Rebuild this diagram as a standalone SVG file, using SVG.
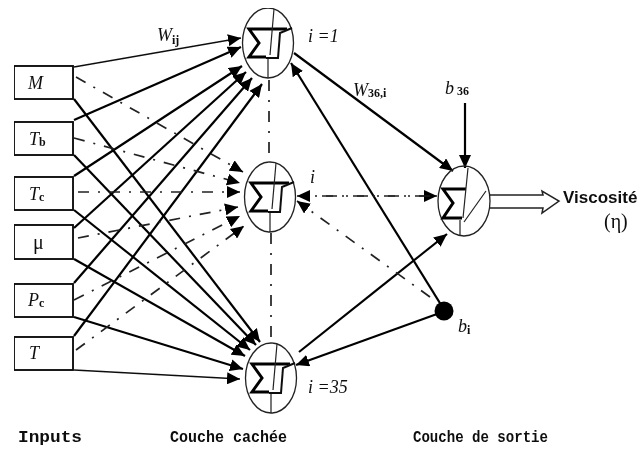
<svg xmlns="http://www.w3.org/2000/svg" xmlns:xlink="http://www.w3.org/1999/xlink" width="641" height="449" viewBox="0 0 641 449">
<style>
.box{fill:#fff;stroke:#111;stroke-width:1.9}
.cell{fill:none;stroke:#222;stroke-width:1.3}
.sig{fill:none;stroke:#000;stroke-width:3}
.thin{fill:none;stroke:#222;stroke-width:1.2}
.step{fill:none;stroke:#111;stroke-width:2}
.s{stroke:#000;stroke-width:2.2;fill:none}
.t{stroke:#111;stroke-width:1.4;fill:none}
.d{stroke:#222;stroke-width:1.7;fill:none;stroke-dasharray:11 9 2 9}
text{font-family:"Liberation Serif",serif;fill:#111}
.i{font-style:italic;font-size:18px}
.c{font-family:"Liberation Mono",monospace;font-size:17px;font-weight:bold}
.v{font-family:"Liberation Sans",sans-serif;font-size:17px;font-weight:bold}
.sub{font-size:12px;font-style:normal;font-weight:bold}
</style>
<defs>
<filter id="soft" x="0" y="0" width="100%" height="100%"><feGaussianBlur stdDeviation="0.45"/></filter>
<marker id="a" markerUnits="userSpaceOnUse" markerWidth="13" markerHeight="12" refX="13" refY="6" orient="auto"><path d="M0 0L13 6L0 12Z" fill="#000"/></marker>
<g id="hidden">
<ellipse class="cell" cx="0" cy="0" rx="25.5" ry="35"/>
<path class="sig" d="M19-14H-19L-9 0-19 14H-2"/>
<path class="thin" d="M6-34L2 12M0 14V35"/>
<path class="step" d="M-2 15H10L12-10 24-15"/>
</g>
</defs>
<rect width="641" height="449" fill="#fff"/>
<g filter="url(#soft)">
<g id="connectors">
<path class="t" d="M74 67L241 38" marker-end="url(#a)"/>
<path class="s" d="M74 120L241 47" marker-end="url(#a)"/>
<path class="s" d="M74 176L242 66" marker-end="url(#a)"/>
<path class="s" d="M74 228L246 72" marker-end="url(#a)"/>
<path class="s" d="M74 283L252 78" marker-end="url(#a)"/>
<path class="s" d="M74 336L262 84" marker-end="url(#a)"/>
<path class="s" d="M74 99L260 342" marker-end="url(#a)"/>
<path class="s" d="M74 155L256 345" marker-end="url(#a)"/>
<path class="s" d="M74 210L250 350" marker-end="url(#a)"/>
<path class="s" d="M74 259L245 356" marker-end="url(#a)"/>
<path class="s" d="M74 317L243 369" marker-end="url(#a)"/>
<path class="t" d="M74 370L240 379" marker-end="url(#a)"/>
<path class="d" d="M76 77L243 172" marker-end="url(#a)"/>
<path class="d" d="M74 138L240 183" marker-end="url(#a)"/>
<path class="d" d="M78 192L240 192" marker-end="url(#a)"/>
<path class="d" d="M78 238L238 207" marker-end="url(#a)"/>
<path class="d" d="M74 300L240 216" marker-end="url(#a)"/>
<path class="d" d="M76 350L244 226" marker-end="url(#a)"/>
<path class="d" d="M269 80V160"/>
<path class="d" d="M271 233V340"/>
<path class="s" d="M294 53L453 171" marker-end="url(#a)"/>
<path class="s" d="M465 103V168" marker-end="url(#a)"/>
<path class="s" d="M443 308L291 63" marker-end="url(#a)"/>
<path class="s" d="M437 314L296 365" marker-end="url(#a)"/>
<path class="s" d="M299 352L447 234" marker-end="url(#a)"/>
<path class="d" d="M322 196H437" marker-end="url(#a)"/>
<path class="d" d="M430 196H297" marker-end="url(#a)"/>
<path class="d" d="M430 297L297 201" marker-end="url(#a)"/>
<path d="M490 195H543L542 191 559 201 542 213 543 208H490" fill="#fff" stroke="#222" stroke-width="1.5"/>
</g>
<g id="input-M"><rect class="box" x="14" y="66" width="59" height="33"/><text class="i" x="28" y="89">M</text></g>
<g id="input-Tb"><rect class="box" x="14" y="122" width="59" height="33"/><text class="i" x="29" y="145">T<tspan class="sub" dy="1">b</tspan></text></g>
<g id="input-Tc"><rect class="box" x="14" y="177" width="59" height="33"/><text class="i" x="29" y="200">T<tspan class="sub" dy="1">c</tspan></text></g>
<g id="input-mu"><rect class="box" x="14" y="225" width="59" height="34"/><text x="33" y="249" font-size="20">μ</text></g>
<g id="input-Pc"><rect class="box" x="14" y="284" width="59" height="33"/><text class="i" x="28" y="306">P<tspan class="sub" dy="1">c</tspan></text></g>
<g id="input-T"><rect class="box" x="14" y="337" width="59" height="33"/><text class="i" x="29" y="359">T</text></g>
<g id="hidden-1"><use xlink:href="#hidden" href="#hidden" x="268" y="43"/><text class="i" x="308" y="42" font-size="16">i =1</text></g>
<g id="hidden-i"><use xlink:href="#hidden" href="#hidden" x="270" y="197"/><text class="i" x="310" y="183" font-size="16">i</text></g>
<g id="hidden-35"><use xlink:href="#hidden" href="#hidden" x="271" y="378"/><text class="i" x="308" y="393" font-size="16">i =35</text></g>
<g id="output"><ellipse class="cell" cx="464" cy="201" rx="26" ry="35"/>
<path class="sig" d="M466 189H443L453 203 443 218H462"/>
<path class="thin" d="M468 168L463 218M460 220V236M464 222L486 191"/></g>
<g id="bias"><circle cx="444" cy="311" r="9.5" fill="#000"/><text class="i" x="458" y="332">b<tspan class="sub" dy="2">i</tspan></text></g>
<g id="labels">
<text class="i" x="157" y="41">W<tspan class="sub" dy="3">ij</tspan></text>
<text class="i" x="353" y="96">W<tspan class="sub" dy="1">36,i</tspan></text>
<text class="i" x="445" y="94">b<tspan class="sub" dy="1"> 36</tspan></text>
<text class="v" x="563" y="203">Viscosité</text>
<text x="604" y="228" font-size="20">(η)</text>
<text class="c" x="18" y="442" textLength="64" lengthAdjust="spacingAndGlyphs">Inputs</text>
<text class="c" x="170" y="442" textLength="117" lengthAdjust="spacingAndGlyphs">Couche cachée</text>
<text class="c" x="413" y="442" textLength="135" lengthAdjust="spacingAndGlyphs">Couche de sortie</text>
</g>
</g>
</svg>
